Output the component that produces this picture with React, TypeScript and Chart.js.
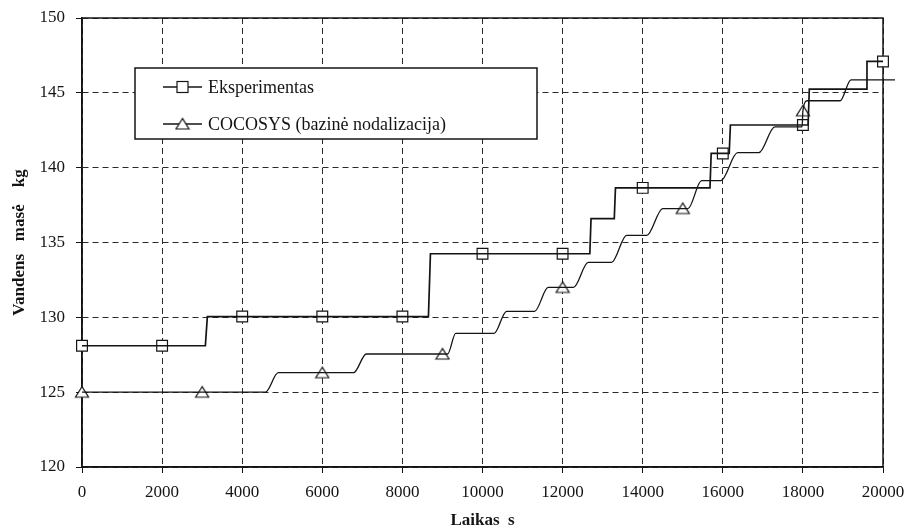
import React, { useEffect, useRef } from 'react';
import { Chart, registerables } from 'chart.js';

Chart.register(...registerables);

// ---- data ----
const expX = [0, 3080, 3130, 8650, 8700, 12680, 12710, 13290, 13320, 15680, 15710, 16160, 16190, 18130, 18160, 19580, 19600, 20000];
const expY = [128.1, 128.1, 130.05, 130.05, 134.25, 134.25, 136.6, 136.6, 138.65, 138.65, 140.95, 140.95, 142.85, 142.85, 145.25, 145.25, 147.1, 147.1];

const cocoX = [0, 4580, 4900, 6780, 7100, 9130, 9330, 10290, 10600, 11300, 11640, 12270, 12640, 13220, 13600, 14100, 14500, 15130, 15470, 15950, 16370, 16900, 17300, 17980, 18000, 18110, 18930, 19200, 20300];
const cocoY = [125, 125, 126.3, 126.3, 127.55, 127.55, 128.93, 128.93, 130.4, 130.4, 132.0, 132.0, 133.67, 133.67, 135.47, 135.47, 137.27, 137.27, 139.13, 139.13, 141.0, 141.0, 142.73, 142.73, 143.8, 144.47, 144.47, 145.87, 145.87];

const expMarkX = [0, 2000, 4000, 6000, 8000, 10000, 12000, 14000, 16000, 18000, 20000];
const expMarkY = [128.1, 128.1, 130.05, 130.05, 130.05, 134.25, 134.25, 138.65, 140.95, 142.85, 147.1];

const cocoMarkX = [0, 3000, 6000, 9000, 12000, 15000, 18000];
const cocoMarkY = [125, 125, 126.3, 127.55, 132.0, 137.27, 143.8];

const legendLabels = ['Eksperimentas', 'COCOSYS (bazinė nodalizacija)'];
const xTitle = 'Laikas  s';
const yTitle = 'Vandens   masė    kg';
const xMin = 0, xMax = 20000, xStep = 2000;
const yMin = 120, yMax = 150, yStep = 5;

const FONT = "'Liberation Serif', 'DejaVu Serif', serif";
const INK = '#141414';

function makeTriangle(): HTMLCanvasElement {
  const c = document.createElement('canvas');
  c.width = 16; c.height = 16;
  const g = c.getContext('2d')!;
  g.beginPath();
  g.moveTo(8, 2.5);
  g.lineTo(1.5, 13);
  g.lineTo(14.5, 13);
  g.closePath();
  g.fillStyle = '#fff';
  g.fill();
  g.lineWidth = 1.2;
  g.strokeStyle = INK;
  g.stroke();
  return c;
}

const pts = (xs: number[], ys: number[]) => xs.map((x, i) => ({ x, y: ys[i] }));

export default function App() {
  const ref = useRef<HTMLCanvasElement>(null);
  useEffect(() => {
    if (!ref.current) return;
    const tri = makeTriangle();

    const frame = {
      id: 'frame',
      beforeDatasetsDraw(chart: any) {
        const { ctx, chartArea: a } = chart;
        ctx.save();
        ctx.strokeStyle = INK;
        ctx.lineWidth = 1.5;
        ctx.strokeRect(a.left, a.top, a.right - a.left, a.bottom - a.top);
        ctx.restore();
      },
    };

    const legendBox = {
      id: 'legendBox',
      afterDraw(chart: any) {
        const { ctx, chartArea: a } = chart;
        const x0 = a.left + 53, y0 = a.top + 50, w = 402, h = 71;
        ctx.save();
        ctx.fillStyle = '#fff';
        ctx.fillRect(x0, y0, w, h);
        ctx.strokeStyle = INK;
        ctx.lineWidth = 1.5;
        ctx.strokeRect(x0, y0, w, h);
        const rows = [a.top + 69, a.top + 106];
        ctx.font = `18px ${FONT}`;
        ctx.textBaseline = 'middle';
        rows.forEach((ry, i) => {
          ctx.strokeStyle = INK;
          ctx.lineWidth = 1.3;
          ctx.beginPath();
          ctx.moveTo(a.left + 81, ry);
          ctx.lineTo(a.left + 120, ry);
          ctx.stroke();
          const cx = a.left + 100.5;
          if (i === 0) {
            ctx.fillStyle = '#fff';
            ctx.fillRect(cx - 5.5, ry - 5.5, 11, 11);
            ctx.lineWidth = 1.2;
            ctx.strokeRect(cx - 5.5, ry - 5.5, 11, 11);
          } else {
            ctx.drawImage(tri, cx - 8, ry - 8);
          }
          ctx.fillStyle = INK;
          ctx.fillText(legendLabels[i], a.left + 126, ry + 1);
        });
        ctx.restore();
      },
    };

    const chart = new Chart(ref.current, {
      type: 'line',
      data: {
        datasets: [
          {
            data: pts(cocoX, cocoY),
            borderColor: INK,
            borderWidth: 1.3,
            pointRadius: 0,
            cubicInterpolationMode: 'monotone',
            fill: false,
            clip: false as any,
          },
          {
            data: pts(expX, expY),
            borderColor: INK,
            borderWidth: 1.7,
            pointRadius: 0,
            tension: 0,
            fill: false,
          },
          {
            data: pts(cocoMarkX, cocoMarkY),
            showLine: false,
            pointStyle: tri as any,
            pointRadius: 7,
            clip: false as any,
          },
          {
            data: pts(expMarkX, expMarkY),
            showLine: false,
            pointStyle: 'rect',
            pointRadius: 7.6,
            pointBackgroundColor: '#fff',
            pointBorderColor: INK,
            pointBorderWidth: 1.2,
            clip: false as any,
          },
        ] as any,
      },
      options: {
        responsive: false,
        animation: false,
        events: [],
        layout: { padding: { top: 18, right: 22, left: 0, bottom: 0 } },
        font: { family: FONT } as any,
        plugins: { legend: { display: false }, tooltip: { enabled: false } },
        scales: {
          x: {
            type: 'linear',
            min: xMin,
            max: xMax,
            afterFit(s: any) { s.height = 64; s.paddingLeft = 0; s.paddingRight = 0; },
            ticks: {
              stepSize: xStep,
              color: INK,
              font: { family: FONT, size: 17 },
              padding: 9,
              maxRotation: 0,
              autoSkip: false,
              callback: (v: any) => String(v),
            },
            grid: { color: '#2a2a2a', lineWidth: 1, tickLength: 6, tickColor: INK, tickBorderDash: [] } as any,
            border: { display: true, color: INK, width: 1.5, dash: [6, 4] },
            title: {
              display: true,
              text: xTitle,
              color: INK,
              font: { family: FONT, size: 17, weight: 'bold' },
              padding: { top: 0, bottom: 0 },
            },
          },
          y: {
            type: 'linear',
            min: yMin,
            max: yMax,
            afterFit(s: any) { s.width = 82; s.paddingTop = 0; s.paddingBottom = 0; },
            ticks: {
              stepSize: yStep,
              color: INK,
              font: { family: FONT, size: 17 },
              padding: 11,
              callback: (v: any) => String(v),
            },
            grid: { color: '#2a2a2a', lineWidth: 1, tickLength: 6, tickColor: INK, tickBorderDash: [] } as any,
            border: { display: true, color: INK, width: 1.5, dash: [6, 4] },
            title: {
              display: true,
              text: yTitle,
              color: INK,
              font: { family: FONT, size: 17, weight: 'bold' },
              padding: { top: 9, bottom: 0 },
            },
          },
        },
      } as any,
      plugins: [frame, legendBox],
    });
    return () => chart.destroy();
  }, []);

  return (
    <div style={{ position: 'absolute', left: 0, top: 0, width: 905, height: 531, background: '#fff' }}>
      <canvas ref={ref} width={905} height={531} style={{ display: 'block' }} />
    </div>
  );
}
